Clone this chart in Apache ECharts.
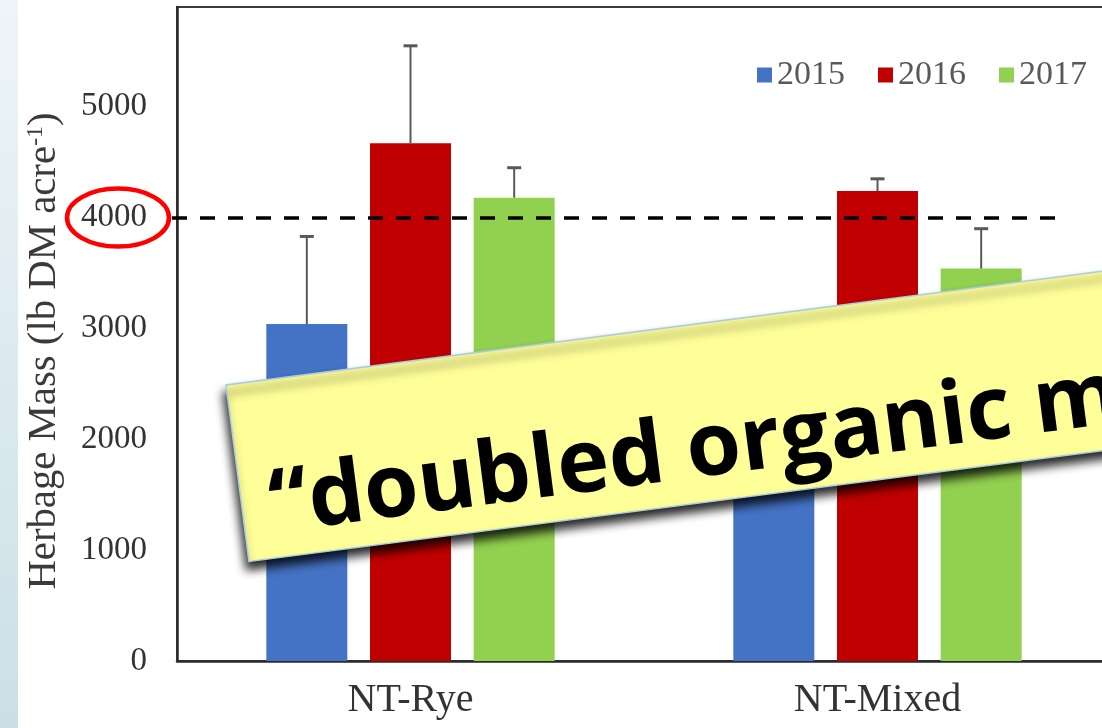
<!DOCTYPE html>
<html>
<head>
<meta charset="utf-8">
<script src="https://cdn.jsdelivr.net/npm/echarts@6/dist/echarts.min.js"></script>
<style>
  html, body { margin: 0; padding: 0; background: #ffffff; }
  #chart { width: 1102px; height: 728px; }
</style>
</head>
<body>
<div id="chart"></div>
<script>
// Cover-crop herbage mass by planting system and year
const categories = ['NT-Rye', 'NT-Mixed'];
const years = ['2015', '2016', '2017'];
const mass2015 = [3040, 2250];
const mass2016 = [4670, 4240];
const mass2017 = [4180, 3540];
const err2015 = [790, 400];
const err2016 = [880, 110];
const err2017 = [270, 360];
const yTicks = [0, 1000, 2000, 3000, 4000, 5000];
const targetMass = 4000;
const yTitle = 'Herbage Mass (lb DM acre';
const calloutText = '\u201Cdoubled organic matter\u201D';

const colors = ['#4472C4', '#C00000', '#92D050'];
const serif = '"Liberation Serif", "Times New Roman", serif';
const BAR_W = 81;
const BAR_GAP = 0.28;

const masses = [mass2015, mass2016, mass2017];
const errs = [err2015, err2016, err2017];

const chart = echarts.init(document.getElementById('chart'), null, { renderer: 'canvas' });

function barSeries(i) {
  const s = {
    name: years[i],
    type: 'bar',
    data: masses[i],
    barWidth: BAR_W,
    barGap: (BAR_GAP * 100) + '%',
    itemStyle: { color: colors[i] },
    z: 2
  };
  if (i === 0) {
    s.markLine = {
      silent: true,
      symbol: 'none',
      label: { show: false },
      lineStyle: { color: '#000', width: 3.5, type: [15, 13] },
      z: 4,
      data: [[{ yAxis: targetMass, x: 172 }, { yAxis: targetMass, x: 1062 }]]
    };
  }
  return s;
}

function errorSeries(i) {
  return {
    name: years[i] + ' error',
    type: 'custom',
    silent: true,
    z: 3,
    data: categories.map((c, k) => [k, masses[i][k] + errs[i][k], masses[i][k]]),
    renderItem: function (params, api) {
      const top = api.coord([api.value(0), api.value(1)]);
      const base = api.coord([api.value(0), api.value(2)]);
      const x = top[0] + (i - 1) * BAR_W * (1 + BAR_GAP);
      const capHalf = 7;
      return {
        type: 'group',
        children: [
          { type: 'line', shape: { x1: x, y1: base[1], x2: x, y2: top[1] },
            style: { stroke: '#595959', lineWidth: 2 } },
          { type: 'line', shape: { x1: x - capHalf, y1: top[1], x2: x + capHalf, y2: top[1] },
            style: { stroke: '#595959', lineWidth: 3 } }
        ]
      };
    }
  };
}

const option = {
  backgroundColor: '#ffffff',
  animation: false,
  grid: {
    left: 177, top: 7, width: 934, bottom: 67,
    outerBoundsMode: 'none', containLabel: false,
    show: true, borderColor: '#3a3a3a', borderWidth: 2, backgroundColor: '#ffffff'
  },
  legend: {
    data: years,
    left: 752, top: 53,
    icon: 'rect',
    itemWidth: 15, itemHeight: 15, itemGap: 33,
    textStyle: { fontFamily: serif, fontSize: 34, color: '#595959' }
  },
  xAxis: {
    type: 'category',
    data: categories,
    axisLine: { lineStyle: { color: '#2b2b2b', width: 2.5 } },
    axisTick: { show: false },
    axisLabel: { fontFamily: serif, fontSize: 40, color: '#333', margin: 19 },
    splitLine: { show: false }
  },
  yAxis: {
    type: 'value',
    min: 0, max: 5900, interval: 1000,
    axisLine: { show: true, lineStyle: { color: '#2b2b2b', width: 2.5 } },
    axisTick: { show: false },
    splitLine: { show: false },
    axisLabel: {
      fontFamily: serif, fontSize: 33, color: '#333', margin: 30,
      formatter: v => (yTicks.indexOf(v) >= 0 ? String(v) : '')
    }
  },
  series: [0, 1, 2].map(barSeries).concat([0, 1, 2].map(errorSeries)),
  graphic: [
    {
      id: 'sideStrip', type: 'rect', z: 0, silent: true,
      shape: { x: 0, y: 0, width: 18, height: 728 },
      style: {
        fill: new echarts.graphic.LinearGradient(0, 0, 0, 1, [
          { offset: 0, color: '#eef5f8' },
          { offset: 1, color: '#cbdfe7' }
        ])
      }
    },
    {
      id: 'yTitle', type: 'text', z: 10, silent: true,
      x: 45, y: 351, rotation: Math.PI / 2, scaleX: 1.045,
      style: {
        text: '{t|' + yTitle + '}{s|-1}{t|)}',
        align: 'center', verticalAlign: 'middle',
        rich: {
          t: { fontFamily: serif, fontSize: 39, fill: '#3a3a3a', lineHeight: 42 },
          s: { fontFamily: serif, fontSize: 23, fill: '#3a3a3a', lineHeight: 42, verticalAlign: 'top' }
        }
      }
    },
    {
      id: 'callout', type: 'group', zlevel: 1,
      x: 226, y: 385, rotation: 7.4 * Math.PI / 180,
      children: [
        {
          type: 'rect', z: 100, silent: true,
          shape: { x: 0, y: 0, width: 1100, height: 178 },
          style: {
            fill: '#FFFF99', stroke: '#A8CCE4', lineWidth: 1.5,
            shadowColor: 'rgba(0,0,0,0.85)', shadowBlur: 10, shadowOffsetX: -2, shadowOffsetY: 8
          }
        },
        {
          type: 'text', z: 101, silent: true,
          x: 28, y: 127,
          style: {
            text: calloutText,
            fontFamily: '"Open Sans", "Noto Sans", sans-serif',
            fontWeight: 'bold', fontSize: 88, fill: '#000',
            verticalAlign: 'middle'
          }
        }
      ]
    }
  ]
};

chart.setOption(option);

// Ring the target tick label once the axis scale is known
const ringCenter = chart.convertToPixel({ yAxisIndex: 0 }, targetMass);
chart.setOption({
  graphic: [{
    id: 'ring', type: 'ellipse', z: 20, silent: true,
    shape: { cx: 118, cy: ringCenter, rx: 51, ry: 29 },
    style: { fill: 'none', stroke: '#FF0000', lineWidth: 4.5 }
  }]
});
</script>
</body>
</html>
